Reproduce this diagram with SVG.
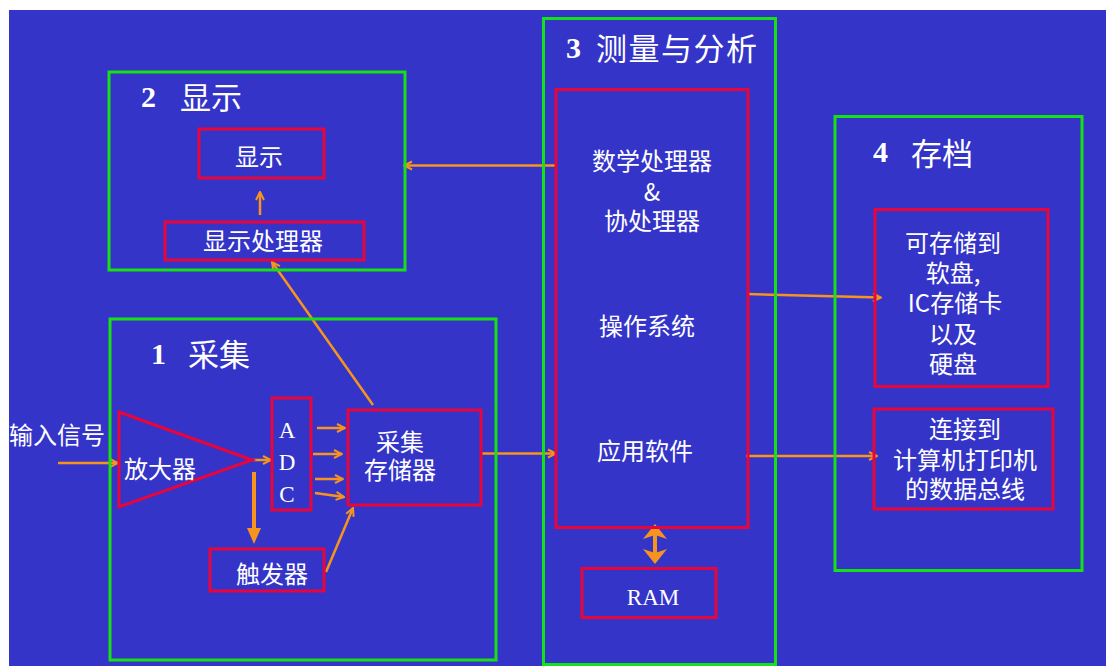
<svg xmlns="http://www.w3.org/2000/svg" width="1106" height="666" viewBox="0 0 1106 666">
<style>
.bg{fill:#3434c9}
.grp{fill:none;stroke:#16e016;stroke-width:3}
.box{fill:none;stroke:#e8053c;stroke-width:3}
.t{font-family:"Noto Sans CJK SC","Noto Sans CJK JP",sans-serif;fill:#ffffff;font-size:24px;text-anchor:middle;dominant-baseline:central}
.ttl{font-family:"Noto Sans CJK SC",sans-serif;fill:#ffffff;font-size:31px;dominant-baseline:central}
.num{font-family:"Liberation Serif",serif;font-weight:bold;fill:#ffffff;font-size:30px;dominant-baseline:central}
.ser{font-family:"Liberation Serif",serif;fill:#ffffff;font-size:23px;text-anchor:middle;dominant-baseline:central}
.c{fill:none;stroke:#f7941d;stroke-width:2.5}
.thick{fill:none;stroke:#f7941d;stroke-width:4}
.head{fill:#f7941d}
</style>
<defs>
<marker id="open" viewBox="0 0 12 12" refX="11" refY="6" markerWidth="12" markerHeight="12" markerUnits="userSpaceOnUse" orient="auto">
<polyline points="3,2 11,6 3,10" fill="none" stroke="#f7941d" stroke-width="2"/>
</marker>
</defs>
<rect x="0" y="0" width="1106" height="666" fill="#ffffff"/>
<rect class="bg" x="9" y="10" width="1097" height="656"/>

<g id="connectors">
<line class="c" x1="58" y1="463" x2="118" y2="463" marker-end="url(#open)"/>
<line class="c" x1="253" y1="460" x2="271" y2="460" marker-end="url(#open)"/>
<line class="c" x1="317" y1="428" x2="345" y2="428" marker-end="url(#open)"/>
<line class="c" x1="313" y1="454" x2="342" y2="454" marker-end="url(#open)"/>
<line class="c" x1="315" y1="479" x2="343" y2="479" marker-end="url(#open)"/>
<line class="c" x1="315" y1="493" x2="344" y2="497" marker-end="url(#open)"/>
<line class="thick" x1="254" y1="472" x2="254" y2="530"/>
<polygon class="head" points="247,528 261,528 254,544"/>
<line class="c" x1="326" y1="572" x2="353" y2="508" marker-end="url(#open)"/>
<line class="c" x1="373" y1="405" x2="272" y2="262" marker-end="url(#open)"/>
<line class="c" x1="260" y1="215" x2="260" y2="192" marker-end="url(#open)"/>
<line class="c" x1="481" y1="453.5" x2="556" y2="453.5" marker-end="url(#open)"/>
<line class="c" x1="557" y1="165.5" x2="404" y2="165.5" marker-end="url(#open)"/>
<line class="c" x1="747" y1="294" x2="881" y2="297.5" marker-end="url(#open)"/>
<line class="c" x1="746" y1="456" x2="877" y2="456" marker-end="url(#open)"/>
<line class="thick" x1="655" y1="534" x2="655" y2="554"/>
<polygon class="head" points="655,524 667,539 655,535 643,539"/>
<polygon class="head" points="655,564 667,549 655,553 643,549"/>
</g>

<g id="group-acquisition">
<rect class="grp" x="110" y="319" width="386" height="341"/>
<text class="num" x="151" y="353">1</text>
<text class="ttl" x="188" y="352">采集</text>
</g>
<g id="input-label">
<text class="t" x="57" y="433">输入信号</text>
</g>
<g id="amplifier">
<polygon class="box" points="119,412 119,507 252,460"/>
<text class="t" x="160" y="467">放大器</text>
</g>
<g id="adc">
<rect class="box" x="272" y="398" width="39" height="112"/>
<text class="ser"><tspan x="287" y="430">A</tspan><tspan x="287" y="462">D</tspan><tspan x="287" y="494">C</tspan></text>
</g>
<g id="acq-memory">
<rect class="box" x="348" y="410" width="133" height="95"/>
<text class="t"><tspan x="400" y="440">采集</tspan><tspan x="400" y="468">存储器</tspan></text>
</g>
<g id="trigger">
<rect class="box" x="210" y="549" width="114" height="42"/>
<text class="t" x="272" y="572">触发器</text>
</g>

<g id="group-display">
<rect class="grp" x="109" y="72" width="296" height="198"/>
<text class="num" x="141" y="96">2</text>
<text class="ttl" x="180" y="95">显示</text>
</g>
<g id="display">
<rect class="box" x="199" y="129" width="125" height="49"/>
<text class="t" x="259" y="155">显示</text>
</g>
<g id="display-processor">
<rect class="box" x="165" y="222" width="199" height="38"/>
<text class="t" x="263" y="239">显示处理器</text>
</g>

<g id="group-measure">
<rect class="grp" x="543.5" y="18.5" width="232" height="646"/>
<text class="num" x="566" y="47">3</text>
<text class="ttl" x="596" y="46" letter-spacing="1.5">测量与分析</text>
</g>
<g id="processor">
<rect class="box" x="556" y="89.5" width="192" height="438"/>
<text class="t"><tspan x="652" y="159">数学处理器</tspan><tspan x="652" y="190">&amp;</tspan><tspan x="652" y="219">协处理器</tspan></text>
<text class="t" x="647" y="324">操作系统</text>
<text class="t" x="645" y="449">应用软件</text>
</g>
<g id="ram">
<rect class="box" x="582" y="568.5" width="134" height="49"/>
<text class="ser" x="653" y="597">RAM</text>
</g>

<g id="group-archive">
<rect class="grp" x="835" y="116.5" width="247" height="454"/>
<text class="num" x="873" y="151">4</text>
<text class="ttl" x="911" y="151">存档</text>
</g>
<g id="storage">
<rect class="box" x="875" y="209.5" width="173" height="177"/>
<text class="t"><tspan x="953" y="241">可存储到</tspan><tspan x="953" y="271">软盘,</tspan><tspan x="955" y="301">IC存储卡</tspan><tspan x="953" y="332">以及</tspan><tspan x="953" y="362">硬盘</tspan></text>
</g>
<g id="bus">
<rect class="box" x="874" y="409" width="179" height="100"/>
<text class="t"><tspan x="965" y="427">连接到</tspan><tspan x="965" y="458">计算机打印机</tspan><tspan x="965" y="487">的数据总线</tspan></text>
</g>
</svg>
